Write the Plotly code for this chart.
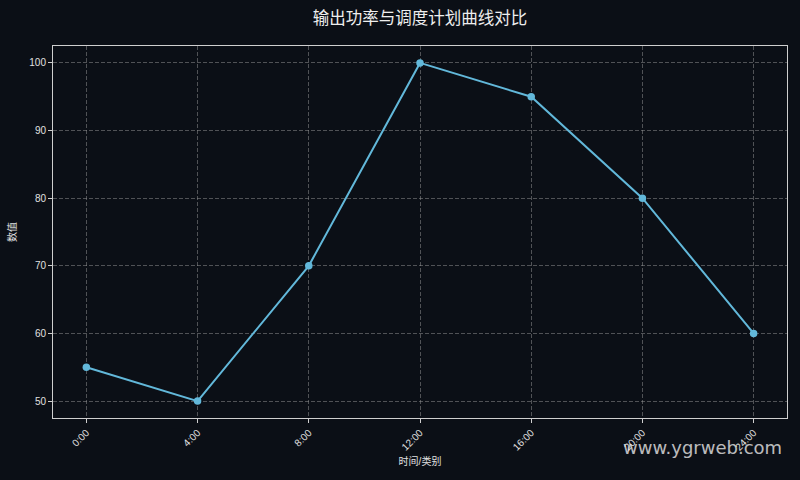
import plotly.graph_objects as go

hours = [0, 4, 8, 12, 16, 20, 24]
tick_labels = ["0:00", "4:00", "8:00", "12:00", "16:00", "20:00", "24:00"]
values = [55, 50, 70, 100, 95, 80, 60]
y_ticks = [50, 60, 70, 80, 90, 100]

BG = "#0b0f16"
LINE = "#62b8da"
FONT = "Liberation Sans, Noto Sans CJK SC"
TXT = "#e0e0e0"

fig = go.Figure()
fig.add_trace(go.Scatter(
    x=hours, y=values, mode="lines+markers",
    line=dict(color=LINE, width=2),
    marker=dict(color=LINE, size=7.5),
    showlegend=False,
))

axis_common = dict(
    showline=True, linecolor="#cfcfcf", linewidth=1, mirror=True,
    showgrid=True, gridcolor="rgba(150,150,150,0.5)", griddash="4px,2px", gridwidth=1,
    zeroline=False, ticks="outside", ticklen=4, tickcolor="#cfcfcf",
    tickfont=dict(family=FONT, size=10, color=TXT),
)

fig.update_layout(
    width=800, height=480,
    paper_bgcolor=BG, plot_bgcolor=BG,
    margin=dict(l=52, r=12, t=46, b=62),
    title=dict(text="输出功率与调度计划曲线对比", x=0.5, xref="paper", xanchor="center",
               y=0.962, yanchor="middle",
               font=dict(family="Noto Sans CJK SC", size=16.5, color="#eeeeee")),
    xaxis=dict(
        range=[-1.2, 25.2], tickvals=hours, ticktext=tick_labels, tickangle=-45,
        title=dict(text="时间/类别", font=dict(family=FONT, size=10, color=TXT), standoff=6),
        **axis_common,
    ),
    yaxis=dict(
        range=[47.5, 102.5], tickvals=y_ticks,
        title=dict(text="数值", font=dict(family=FONT, size=10, color=TXT), standoff=10),
        **axis_common,
    ),
    annotations=[dict(
        text="www.ygrweb.com", xref="paper", yref="paper", x=0.996, y=-0.08,
        xanchor="right", yanchor="middle", showarrow=False,
        font=dict(family="DejaVu Sans", size=18, color="rgba(235,235,235,0.8)"),
    )],
)

fig.write_html(
    "out.html",
    config={"displayModeBar": False},
    post_script="document.body.style.margin='0';document.body.style.background='#0b0f16';",
)
